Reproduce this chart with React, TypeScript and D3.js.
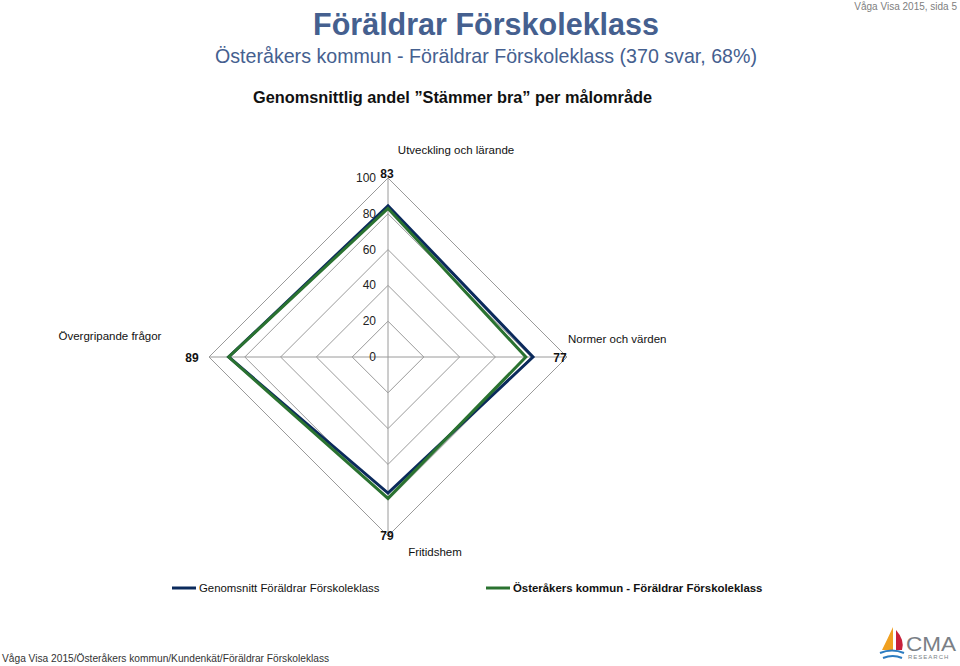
import { useRef, useEffect } from 'react';
import * as d3 from 'd3';

const categories = ['Utveckling och lärande', 'Normer och värden', 'Fritidshem', 'Övergripande frågor'];
const seriesNames = ['Genomsnitt Föräldrar Förskoleklass', 'Österåkers kommun - Föräldrar Förskoleklass'];
const avgValues = [84.5, 81, 76, 89];
const localValues = [83, 77, 79, 89];
const ticks = [0, 20, 40, 60, 80, 100];

const W = 960;
const H = 666;
const cx = 388;
const cy = 357;
const R = 179;

const App = () => {
  const svgRef = useRef<SVGSVGElement | null>(null);

  useEffect(() => {
    const svg = d3.select(svgRef.current);
    svg.selectAll('*').remove();

    const r = d3.scaleLinear().domain([0, 100]).range([0, R]);
    const angle = d3.scaleLinear().domain([0, categories.length]).range([0, 2 * Math.PI]);
    const pt = (i: number, v: number): [number, number] => [
      cx + Math.sin(angle(i)) * r(v),
      cy - Math.cos(angle(i)) * r(v),
    ];

    // titles
    svg.append('text').attr('x', 957).attr('y', 10).attr('text-anchor', 'end')
      .attr('font-size', 10).attr('fill', '#808080').attr('font-family', 'Liberation Sans, Arial')
      .text('Våga Visa 2015, sida 5');
    svg.append('text').attr('x', 313).attr('y', 35)
      .attr('font-size', 31).attr('font-weight', 'bold').attr('fill', '#45608f')
      .attr('font-family', 'Liberation Sans, Arial')
      .attr('textLength', 346).attr('lengthAdjust', 'spacingAndGlyphs')
      .text('Föräldrar Förskoleklass');
    svg.append('text').attr('x', 215).attr('y', 63)
      .attr('font-size', 21).attr('fill', '#45608f')
      .attr('font-family', 'Liberation Sans, Arial')
      .attr('textLength', 542).attr('lengthAdjust', 'spacingAndGlyphs')
      .text('Österåkers kommun - Föräldrar Förskoleklass (370 svar, 68%)');
    svg.append('text').attr('x', 253).attr('y', 103)
      .attr('font-size', 16.5).attr('font-weight', 'bold').attr('fill', '#111')
      .attr('font-family', 'Liberation Sans, Arial')
      .attr('textLength', 399).attr('lengthAdjust', 'spacingAndGlyphs')
      .text('Genomsnittlig andel ”Stämmer bra” per målområde');

    // grid
    const line = d3.line<[number, number]>();
    const g = svg.append('g');
    ticks.slice(1).forEach((t) => {
      const pts = categories.map((_, i) => pt(i, t));
      g.append('path').attr('d', line(pts) + 'Z').attr('fill', 'none')
        .attr('stroke', '#9a9a9a').attr('stroke-width', 1);
    });
    categories.forEach((_, i) => {
      const [x, y] = pt(i, 100);
      g.append('line').attr('x1', cx).attr('y1', cy).attr('x2', x).attr('y2', y)
        .attr('stroke', '#9a9a9a').attr('stroke-width', 1);
    });
    ticks.forEach((t) => {
      g.append('text').attr('x', cx - 12).attr('y', cy - r(t) + 4).attr('text-anchor', 'end')
        .attr('font-size', 12).attr('fill', '#222').attr('font-family', 'Liberation Sans, Arial')
        .text(t);
    });

    // series
    const colors = ['#0b2a5c', '#2a7230'];
    [avgValues, localValues].forEach((vals, s) => {
      const pts = vals.map((v, i) => pt(i, v));
      svg.append('path').attr('d', line(pts) + 'Z').attr('fill', 'none')
        .attr('stroke', colors[s]).attr('stroke-width', 3).attr('stroke-linejoin', 'miter');
    });

    // data labels (local series)
    const labelPos: [number, number][] = [[-1, 0], [-7, 5], [-1, 4], [-17, 5]];
    const lbl = svg.append('g').attr('font-family', 'Liberation Sans, Arial').attr('font-size', 12)
      .attr('font-weight', 'bold').attr('fill', '#111').attr('text-anchor', 'middle');
    localValues.forEach((v, i) => {
      const [x, y] = pt(i, 100);
      lbl.append('text').attr('x', x + labelPos[i][0]).attr('y', y + labelPos[i][1]).text(v);
    });

    // category labels
    const catPos: [number, number, string][] = [[456, 154, 'middle'], [568, 343, 'start'], [435, 556, 'middle'], [110, 340, 'middle']];
    const cat = svg.append('g').attr('font-family', 'Liberation Sans, Arial').attr('font-size', 11.5).attr('fill', '#111');
    categories.forEach((c, i) => {
      cat.append('text').attr('x', catPos[i][0]).attr('y', catPos[i][1])
        .attr('text-anchor', catPos[i][2]).text(c);
    });

    // legend
    const legX = [172, 486];
    seriesNames.forEach((n, s) => {
      svg.append('line').attr('x1', legX[s]).attr('x2', legX[s] + 24).attr('y1', 588).attr('y2', 588)
        .attr('stroke', colors[s]).attr('stroke-width', 3);
      svg.append('text').attr('x', legX[s] + 27).attr('y', 592)
        .attr('font-family', 'Liberation Sans, Arial').attr('font-size', 11.4)
        .attr('font-weight', s === 1 ? 'bold' : 'normal').attr('fill', '#111').text(n);
    });

    // footer
    svg.append('text').attr('x', 2).attr('y', 662).attr('font-size', 10.2).attr('fill', '#333')
      .attr('font-family', 'Liberation Sans, Arial')
      .text('Våga Visa 2015/Österåkers kommun/Kundenkät/Föräldrar Förskoleklass');

    // logo
    const logo = svg.append('g');
    logo.append('path').attr('d', 'M893,627 Q887,640 882,650 L893,650 Z').attr('fill', '#f0a020');
    logo.append('path').attr('d', 'M896,630 Q905,640 902,650 L896,650 Z').attr('fill', '#c8203a');
    logo.append('path').attr('d', 'M880,653 Q892,648 904,653').attr('fill', 'none').attr('stroke', '#2b7bc0').attr('stroke-width', 2);
    logo.append('path').attr('d', 'M883,658 Q893,654 902,658').attr('fill', 'none').attr('stroke', '#2b7bc0').attr('stroke-width', 2);
    logo.append('text').attr('x', 906).attr('y', 651).attr('font-size', 21).attr('fill', '#7a7f86')
      .attr('font-family', 'Liberation Sans, Arial').attr('textLength', 50).attr('lengthAdjust', 'spacingAndGlyphs').text('CMA');
    logo.append('text').attr('x', 908).attr('y', 659).attr('font-size', 6).attr('fill', '#7a7f86')
      .attr('letter-spacing', 1).attr('font-family', 'Liberation Sans, Arial').text('RESEARCH');
  }, []);

  return (
    <div style={{ position: 'absolute', left: 0, top: 0 }}>
      <svg ref={svgRef} width={W} height={H} style={{ display: 'block', background: '#fff' }}></svg>
    </div>
  );
};

export default App;
